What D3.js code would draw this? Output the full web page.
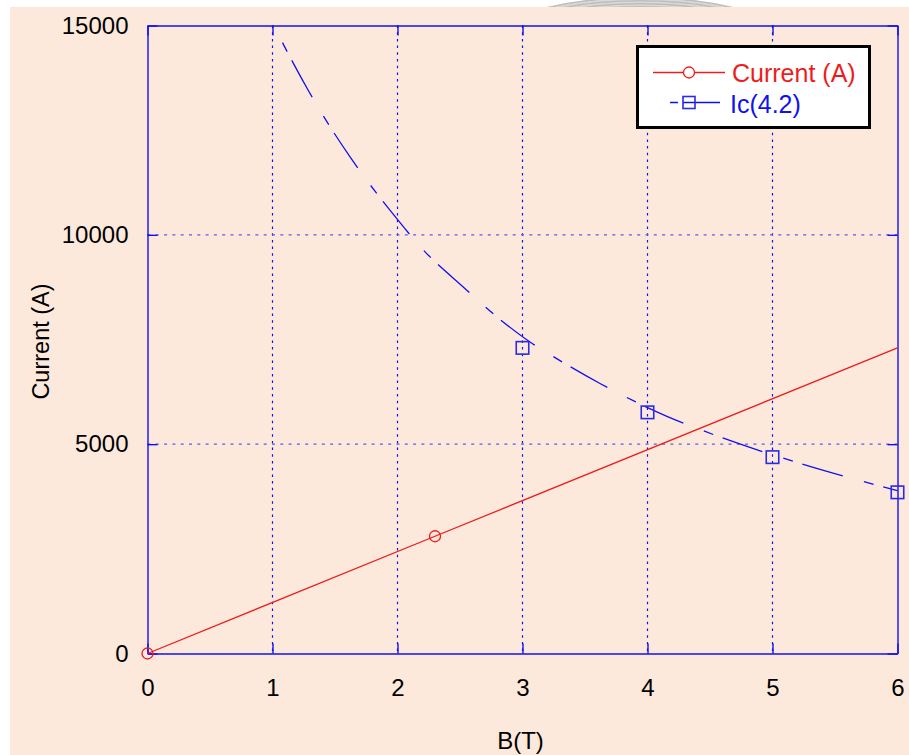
<!DOCTYPE html>
<html><head><meta charset="utf-8">
<script src="https://cdn.jsdelivr.net/npm/d3@7"></script>
<style>html,body{margin:0;padding:0;background:#fff;}svg{display:block;}</style>
</head><body>
<svg id="chart" width="909" height="755"></svg>
<script>
// ---- data ----
const xTicks = [0, 1, 2, 3, 4, 5, 6];
const yTicks = [0, 5000, 10000, 15000];
const currentB = [0, 2.3, 6];
const currentI = [0, 2800, 7300];
const currentMarkB = [0, 2.3];
const currentMarkI = [0, 2800];
const icB = [3, 4, 5, 6];
const icI = [7300, 5760, 4690, 3850];
const icFitB = [1.08, 1.15, 1.29, 1.38, 1.63, 2.04, 2.16, 2.55, 2.82, 3.08, 3.22, 3.62, 4.16, 4.42, 5.22, 5.76, 6.0];
const icFitI = [14590, 14190, 13430, 12970, 11820, 10220, 9790, 8690, 7980, 7400, 7140, 6450, 5660, 5350, 4540, 4080, 3890];
const seriesNames = ["Current (A)", "Ic(4.2)"];

// ---- layout ----
const svg = d3.select("#chart");
const L = 147.5, R = 897.5, T = 25.5, B = 653.5;
const x = d3.scaleLinear().domain([0, 6]).range([L, R]);
const y = d3.scaleLinear().domain([0, 15000]).range([B, T]);
const blue = "#1010f0", red = "#ee1c1c";
const font = "'Liberation Sans', Arial, sans-serif";

// background
svg.append("rect").attr("x", 10).attr("y", 7).attr("width", 899).attr("height", 748).attr("fill", "#fde9dc");
// faint watermark arcs in top strip
const wm = svg.append("g");
wm.append("clipPath").attr("id", "topclip").append("rect").attr("x", 0).attr("y", 0).attr("width", 909).attr("height", 7);
const wmg = wm.append("g").attr("clip-path", "url(#topclip)");
[0, 1, 2, 3, 4, 5, 6].forEach(i => {
  wmg.append("ellipse").attr("cx", 640).attr("cy", 60).attr("rx", 170 - i * 4).attr("ry", 62 - i * 1.5)
    .attr("fill", "none").attr("stroke", i % 2 ? "#d8d8d8" : "#bdbdbd").attr("stroke-width", 2);
});

// grid
const grid = svg.append("g");
grid.selectAll("line.vx").data(xTicks.filter(d => d > 0 && d < 6)).join("line")
  .attr("x1", d => x(d)).attr("x2", d => x(d)).attr("y1", T).attr("y2", B)
  .attr("stroke", blue).attr("stroke-width", 1.2).attr("stroke-dasharray", "2.5,4.2");
grid.selectAll("line.hy").data(yTicks.filter(d => d > 0 && d < 15000)).join("line")
  .attr("x1", L).attr("x2", R).attr("y1", d => y(d)).attr("y2", d => y(d))
  .attr("stroke", "#5a5af0").attr("stroke-width", 1.2).attr("stroke-dasharray", "3,5.3");

// axes with inner ticks
const axB = d3.axisBottom(x).tickValues(xTicks).tickSizeInner(-10).tickSizeOuter(0).tickPadding(25).tickFormat(d3.format("d"));
const axT = d3.axisTop(x).tickValues(xTicks).tickSizeInner(-10).tickSizeOuter(0).tickFormat("");
const axL = d3.axisLeft(y).tickValues(yTicks).tickSizeInner(-10).tickSizeOuter(0).tickPadding(19).tickFormat(d3.format("d"));
const axR = d3.axisRight(y).tickValues(yTicks).tickSizeInner(-10).tickSizeOuter(0).tickFormat("");
function styleAxis(g) {
  g.select(".domain").attr("stroke", blue).attr("stroke-width", 1.4);
  g.selectAll(".tick line").attr("stroke", blue).attr("stroke-width", 1.4);
  g.selectAll(".tick text").attr("fill", "#000").style("font-family", font).style("font-size", "24px");
}
svg.append("g").attr("transform", `translate(0,${B})`).call(axB).call(styleAxis);
svg.append("g").attr("transform", `translate(0,${T})`).call(axT).call(styleAxis);
svg.append("g").attr("transform", `translate(${L},0)`).call(axL).call(styleAxis);
svg.append("g").attr("transform", `translate(${R},0)`).call(axR).call(styleAxis);

// axis titles
svg.append("text").attr("x", (L + R) / 2 - 2).attr("y", 749).attr("text-anchor", "middle")
  .attr("fill", "#000").style("font-family", font).style("font-size", "24px").text("B(T)");
svg.append("text").attr("transform", `translate(49,${(T + B) / 2 + 2}) rotate(-90)`).attr("text-anchor", "middle")
  .attr("fill", "#000").style("font-family", font).style("font-size", "23.5px").text("Current (A)");

// series
const plot = svg.append("g");
const lineGen = d3.line().x(d => x(d[0])).y(d => y(d[1]));
plot.append("path").datum(currentB.map((b, i) => [b, currentI[i]]))
  .attr("d", lineGen).attr("fill", "none").attr("stroke", red).attr("stroke-width", 1.3);
plot.append("path").datum(icFitB.map((b, i) => [b, icFitI[i]]))
  .attr("d", lineGen.curve(d3.curveMonotoneX)).attr("fill", "none").attr("stroke", blue)
  .attr("stroke-width", 1.3).attr("stroke-dasharray", "10,10,42,22");
plot.selectAll("circle.cm").data(currentMarkB.map((b, i) => [b, currentMarkI[i]])).join("circle")
  .attr("cx", d => x(d[0])).attr("cy", d => y(d[1])).attr("r", 5.5)
  .attr("fill", "none").attr("stroke", red).attr("stroke-width", 1.3);
const sq = 12.5;
plot.selectAll("rect.im").data(icB.map((b, i) => [b, icI[i]])).join("rect")
  .attr("x", d => x(d[0]) - sq / 2).attr("y", d => y(d[1]) - sq / 2).attr("width", sq).attr("height", sq)
  .attr("fill", "none").attr("stroke", "#2a2ae8").attr("stroke-width", 1.6);

// legend
const lg = svg.append("g");
lg.append("rect").attr("x", 637.5).attr("y", 46.5).attr("width", 232).attr("height", 81)
  .attr("fill", "#fff").attr("stroke", "#000").attr("stroke-width", 3);
lg.append("line").attr("x1", 653).attr("x2", 725).attr("y1", 72.5).attr("y2", 72.5).attr("stroke", red).attr("stroke-width", 1.3);
lg.append("circle").attr("cx", 689).attr("cy", 72.5).attr("r", 5.5).attr("fill", "#fff").attr("stroke", red).attr("stroke-width", 1.3);
lg.append("text").attr("x", 732).attr("y", 82).attr("fill", red).style("font-family", font).style("font-size", "25px").text(seriesNames[0]);
lg.append("line").attr("x1", 670).attr("x2", 720).attr("y1", 102.5).attr("y2", 102.5).attr("stroke", blue)
  .attr("stroke-width", 1.3).attr("stroke-dasharray", "8,5,60");
lg.append("rect").attr("x", 683).attr("y", 96.5).attr("width", 12).attr("height", 12).attr("fill", "none").attr("stroke", "#2a2ae8").attr("stroke-width", 1.6);
lg.append("text").attr("x", 730).attr("y", 113).attr("fill", blue).style("font-family", font).style("font-size", "25px").text(seriesNames[1]);
</script>
</body></html>
